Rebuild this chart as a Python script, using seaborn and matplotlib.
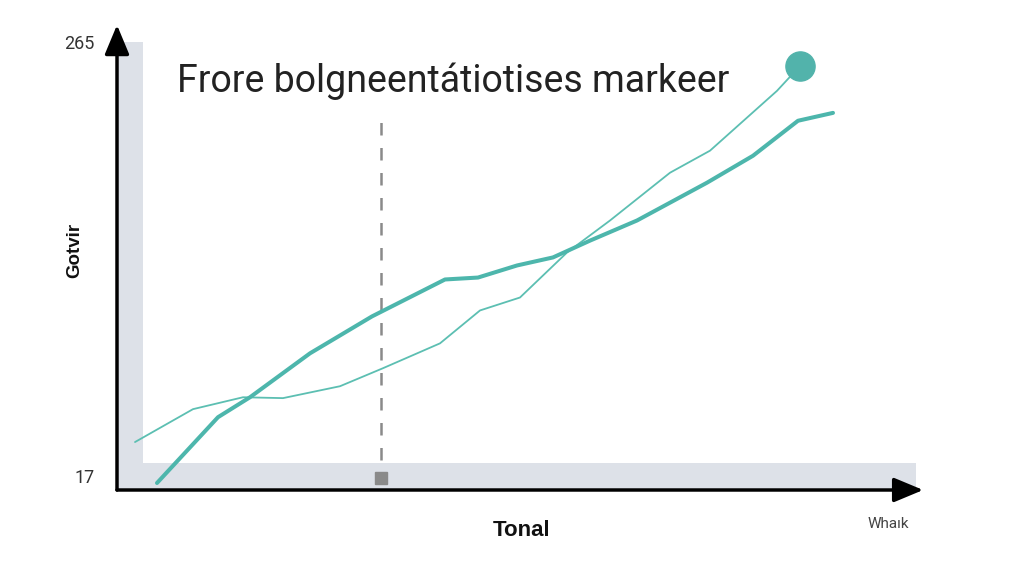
import numpy as np
import pandas as pd
import matplotlib
matplotlib.use('Agg')
import matplotlib.pyplot as plt
import seaborn as sns
from matplotlib.patches import Rectangle

# thick series
thick_x = [40, 101, 133, 193, 255, 328, 361, 400, 436, 473, 520, 590, 636, 681, 716]
thick_y = [13.0, 50.6, 62.0, 87.1, 108.2, 129.3, 130.4, 137.3, 141.9, 151.5, 163.0, 184.6, 200.0, 220.0, 224.5]

# thin series, last point carries the marker
thin_x = [18, 76, 126, 166, 223, 266, 323, 363, 403, 450, 493, 553, 593, 660, 683]
thin_y = [36.4, 55.2, 62.0, 61.5, 68.3, 78.6, 92.8, 111.6, 119.0, 144.7, 163.0, 190.3, 202.9, 237.1, 251.3]

marker_x = 264
y_ticks = [17, 265]
x_ticks = [128, 508, 658]

title = 'Frore bolgneentátiotises markeer'
x_label = 'Tonal'
y_label = 'Gotvir'
corner_label = 'Whaık'

sns.set_theme(style='white')
plt.rcParams['font.family'] = ['Roboto', 'DejaVu Sans']

fig = plt.figure(figsize=(10.24, 5.76), dpi=100)
ax = fig.add_axes([117 / 1024, 1 - 490 / 576, 799 / 1024, 448 / 576])
ax.set_facecolor('#dde1e8')
ax.add_patch(Rectangle((26 / 799, 27 / 448), 1, 1, transform=ax.transAxes,
                       facecolor='white', edgecolor='none', zorder=0))

teal = '#4db6ac'
sns.lineplot(x=thin_x, y=thin_y, ax=ax, color='#5cbfb2', lw=1.3, zorder=3)
sns.lineplot(x=thick_x, y=thick_y, ax=ax, color=teal, lw=2.9, zorder=4)
ax.plot(thin_x[-1], thin_y[-1], 'o', ms=21, color='#52b3ab', zorder=5)

ax.vlines(marker_x, 26, 226, colors='#8a8a8a', linestyles=(0, (5, 5)), lw=1.8, zorder=2)
ax.plot(marker_x, 15.9, 's', ms=8, color='#8a8a8a', zorder=5)

ax.set_xlim(0, 799)
ax.set_ylim(9, 265)
ax.set_yticks(y_ticks)
ax.set_yticklabels([str(v) for v in y_ticks], fontsize=13, color='#333333')
ax.set_xticks(x_ticks)
ax.set_xticklabels([])
ax.tick_params(axis='y', length=0, pad=16)
ax.tick_params(axis='x', direction='in', length=6, width=1.5, color='black')

for s in ax.spines.values():
    s.set_visible(False)

# axis arrows
arrow = dict(arrowstyle='-|>,head_length=1.2,head_width=0.5', lw=2.5,
             color='black', shrinkA=0, shrinkB=0, mutation_scale=15)
ax.annotate('', xy=(1.009, 0), xytext=(0, 0), xycoords='axes fraction',
            arrowprops=arrow, annotation_clip=False)
ax.annotate('', xy=(0, 1.038), xytext=(0, 0), xycoords='axes fraction',
            arrowprops=arrow, annotation_clip=False)

fig.text(177 / 1024, 1 - 92 / 576, title, fontsize=27, color='#222222', va='baseline', ha='left')
fig.text(522 / 1024, 1 - 530 / 576, x_label, fontsize=16, fontweight='bold',
         ha='center', va='center', color='#111111', family=['Liberation Sans', 'DejaVu Sans'])
fig.text(75 / 1024, 1 - 250 / 576, y_label, fontsize=13.5, fontweight='bold', rotation=90,
         ha='center', va='center', color='#111111', family=['Liberation Sans', 'DejaVu Sans'])
fig.text(888 / 1024, 1 - 524 / 576, corner_label, fontsize=11, ha='center', va='center', color='#444444')

fig.savefig('out.png', dpi=100, facecolor='white')
